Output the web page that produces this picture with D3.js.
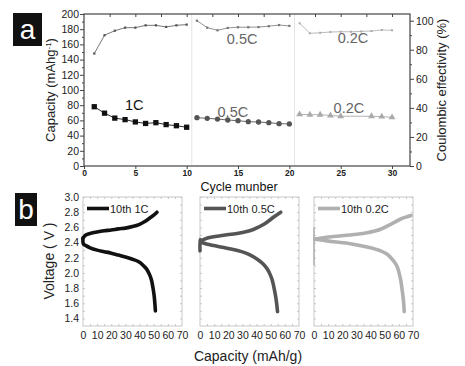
<!DOCTYPE html>
<html lang="en">
<head>
<meta charset="UTF-8">
<title>Cycling and voltage profiles</title>
<script src="https://d3js.org/d3.v7.min.js"></script>
<style>
  body { margin: 0; background: #fff; }
  svg { display: block; font-family: "Liberation Sans", Arial, sans-serif; }
  .tick text { fill: #222; }
</style>
</head>
<body>
<svg id="chart" width="465" height="366"></svg>
<script>
// ---- panel a: capacity (left axis) and coulombic efficiency (right axis)
const cycles1C = [1, 2, 3, 4, 5, 6, 7, 8, 9, 10];
const cap1C = [78, 69.5, 63, 61, 58, 56, 57, 54.5, 53, 51];
const eff1C = [77.4, 90, 93.1, 95.2, 95.2, 96.8, 96.8, 95.7, 96.8, 97.3];

const cycles05C = [11, 12, 13, 14, 15, 16, 17, 18, 19, 20];
const cap05C = [63.6, 62.7, 61.8, 60.5, 59.6, 58.3, 57.9, 57, 55.7, 55.3];
const eff05C = [100, 95.2, 93.4, 95, 95.5, 95.5, 95.6, 96.2, 97, 96.4];

const capCycles02C = [21, 22, 23, 24, 25, 28, 29, 30];
const cap02C = [68, 67.5, 67.5, 66.5, 65.5, 65.5, 65, 64];
const effCycles02C = [21, 22, 23, 24, 25, 26, 27, 28, 29, 30];
const eff02C = [98.2, 91.3, 91.7, 92.2, 92.4, 92.4, 92.6, 92.9, 93.6, 93.4];

const cycleTicks = [0, 5, 10, 15, 20, 25, 30];
const capTicks = [0, 20, 40, 60, 80, 100, 120, 140, 160, 180, 200];
const effTicks = [0, 20, 40, 60, 80, 100];

// ---- panel b: 10th-cycle voltage profiles [capacity, voltage]
const charge1C = [[0, 2.46], [2, 2.50], [5, 2.52], [10, 2.54], [15, 2.555], [20, 2.565], [25, 2.58], [30, 2.59], [35, 2.61], [40, 2.64], [44, 2.68], [47, 2.72], [50, 2.76], [52.3, 2.80]];
const discharge1C = [[0, 2.46], [0.3, 2.38], [2, 2.36], [5, 2.33], [10, 2.30], [15, 2.28], [20, 2.26], [25, 2.235], [30, 2.21], [35, 2.18], [40, 2.14], [43, 2.09], [45, 2.05], [47, 1.98], [48.5, 1.90], [49.5, 1.80], [50.3, 1.70], [50.8, 1.60], [51.2, 1.50]];
const charge05C = [[0.5, 2.42], [4.8, 2.457], [14.3, 2.49], [26.2, 2.52], [33, 2.545], [38.1, 2.575], [45.2, 2.64], [49, 2.69], [52.4, 2.74], [57.1, 2.80]];
const discharge05C = [[0, 2.29], [0, 2.44], [0.5, 2.41], [7.1, 2.37], [19, 2.325], [31, 2.27], [36, 2.23], [40.5, 2.18], [44.5, 2.12], [47.6, 2.05], [50, 1.96], [51.2, 1.895], [52.6, 1.78], [53.6, 1.675], [54.3, 1.58], [54.8, 1.49]];
const charge02C = [[0.7, 2.445], [4.3, 2.457], [13.8, 2.48], [25.7, 2.50], [37.6, 2.53], [47.1, 2.575], [54.3, 2.64], [61.4, 2.71], [68.6, 2.755]];
const discharge02C = [[0.7, 2.445], [13.8, 2.41], [25.7, 2.385], [37.6, 2.34], [47.1, 2.29], [51.5, 2.25], [54.3, 2.20], [57, 2.14], [59.1, 2.07], [60.4, 1.98], [61.4, 1.895], [62.3, 1.78], [63, 1.675], [63.5, 1.58], [63.8, 1.49]];
const spike02C = [[0, 2.10], [0, 2.60]];

const profileLabels = ["10th 1C", "10th 0.5C", "10th 0.2C"];
const capacityTicks = [0, 10, 20, 30, 40, 50, 60, 70];
const voltageTicks = [1.4, 1.6, 1.8, 2.0, 2.2, 2.4, 2.6, 2.8, 3.0];

const svg = d3.select("#chart");

// ================= panel a =================
const x = d3.scaleLinear().domain([0, 31.75]).range([84, 410]);
const yCap = d3.scaleLinear().domain([0, 200]).range([166, 14]);
const yEff = d3.scaleLinear().domain([0, 104.6]).range([166, 14]);

const pa = svg.append("g");

// faint separators between rate blocks
[10.5, 20.5].forEach(c => {
    pa.append("line")
        .attr("x1", x(c)).attr("x2", x(c))
        .attr("y1", 14).attr("y2", 166)
        .attr("stroke", "#e4e4e4").attr("stroke-width", 1);
});

// frame
pa.append("rect")
    .attr("x", 84).attr("y", 14).attr("width", 326).attr("height", 152)
    .attr("fill", "none").attr("stroke", "#444").attr("stroke-width", 1.2);

// axes
const axL = pa.append("g").attr("transform", "translate(84,0)")
    .call(d3.axisLeft(yCap).tickValues(capTicks).tickSize(4).tickSizeOuter(0));
pa.append("g").attr("transform", "translate(84,0)")
    .call(d3.axisLeft(yCap).tickValues(d3.range(10, 200, 20)).tickSize(2).tickFormat(""));
const axR = pa.append("g").attr("transform", "translate(410,0)")
    .call(d3.axisRight(yEff).tickValues(effTicks).tickSize(4).tickSizeOuter(0));
pa.append("g").attr("transform", "translate(410,0)")
    .call(d3.axisRight(yEff).tickValues(d3.range(10, 100, 20)).tickSize(2).tickFormat(""));
const axB = pa.append("g").attr("transform", "translate(0,166)")
    .call(d3.axisBottom(x).tickValues(cycleTicks).tickSize(3).tickSizeOuter(0));
pa.append("g").attr("transform", "translate(0,14)")
    .call(d3.axisBottom(x).tickValues(d3.range(2.5, 31, 2.5)).tickSize(3).tickFormat(""));

pa.selectAll(".domain").remove();
pa.selectAll(".tick line").attr("stroke", "#444");
axL.selectAll("text").attr("font-size", 10.5).attr("x", -5);
axR.selectAll("text").attr("font-size", 10.5).attr("x", 6);
axB.selectAll("text").attr("font-size", 8.5).attr("font-weight", "bold").attr("fill", "#333").attr("y", 4);

// axis titles
pa.append("text")
    .attr("transform", "translate(55,90) rotate(-90)")
    .attr("text-anchor", "middle").attr("font-size", 13).attr("fill", "#222")
    .text("Capacity (mAhg")
    .append("tspan").attr("baseline-shift", "super").attr("font-size", 8).text("-1")
    .select(function () { return this.parentNode; })
    .append("tspan").text(")");
pa.append("text")
    .attr("transform", "translate(446,90) rotate(-90)")
    .attr("text-anchor", "middle").attr("font-size", 13).attr("fill", "#222")
    .text("Coulombic effectivity (%)");
pa.append("text")
    .attr("x", 239).attr("y", 191)
    .attr("text-anchor", "middle").attr("font-size", 12.5).attr("fill", "#111")
    .text("Cycle munber");

// series
function addSeries(cycles, vals, scale, color, lineW, shape, size) {
    const pts = cycles.map((c, i) => [x(c), scale(vals[i])]);
    pa.append("path")
        .attr("d", d3.line()(pts))
        .attr("fill", "none").attr("stroke", color).attr("stroke-width", lineW);
    pa.selectAll(null).data(pts).join("path")
        .attr("transform", d => `translate(${d[0]},${d[1]})`)
        .attr("d", d3.symbol().type(shape).size(size))
        .attr("fill", color);
}
addSeries(cycles1C, eff1C, yEff, "#555", 0.8, d3.symbolSquare, 5);
addSeries(cycles05C, eff05C, yEff, "#777", 0.8, d3.symbolSquare, 5);
addSeries(effCycles02C, eff02C, yEff, "#aaa", 0.8, d3.symbolSquare, 4);
addSeries(cycles1C, cap1C, yCap, "#111", 0.9, d3.symbolSquare, 28);
addSeries(cycles05C, cap05C, yCap, "#555", 0.9, d3.symbolCircle, 22);
addSeries(capCycles02C, cap02C, yCap, "#aaa", 0.9, d3.symbolTriangle, 20);

// rate labels (baseline positions in data units)
const rateLabels = [
    { t: "1C", c: 4.9, v: 73.7, s: yCap, col: "#111" },
    { t: "0.5C", c: 15.4, v: 84, s: yEff, col: "#666" },
    { t: "0.5C", c: 14.5, v: 64.5, s: yCap, col: "#666" },
    { t: "0.2C", c: 26.2, v: 84.4, s: yEff, col: "#666" },
    { t: "0.2C", c: 25.8, v: 70, s: yCap, col: "#666" }
];
pa.selectAll(".rate").data(rateLabels).join("text")
    .attr("class", "rate")
    .attr("x", d => x(d.c)).attr("y", d => d.s(d.v))
    .attr("text-anchor", "middle").attr("font-size", 14.5)
    .attr("fill", d => d.col)
    .text(d => d.t);

// panel tag
pa.append("rect").attr("x", 13).attr("y", 13).attr("width", 29).attr("height", 33).attr("fill", "#111");
pa.append("text").attr("x", 27.5).attr("y", 39).attr("text-anchor", "middle")
    .attr("font-size", 28).attr("fill", "#fff").text("a");

// ================= panel b =================
const y = d3.scaleLinear().domain([1.3, 3.0]).range([326, 197]);
const profiles = [
    { x0: 83, label: profileLabels[0], color: "#111", charge: charge1C, discharge: discharge1C, extra: null, yLabels: true },
    { x0: 200, label: profileLabels[1], color: "#555", charge: charge05C, discharge: discharge05C, extra: null, yLabels: false },
    { x0: 314, label: profileLabels[2], color: "#b0b0b0", charge: charge02C, discharge: discharge02C, extra: spike02C, yLabels: false }
];

const pb = svg.append("g");
profiles.forEach(p => {
    const xs = d3.scaleLinear().domain([0, 70]).range([p.x0, p.x0 + 99]);
    const g = pb.append("g");

    // minor ticks on every side
    const tickCol = "#c4c4c4";
    g.append("g").attr("transform", `translate(${p.x0},0)`)
        .call(d3.axisRight(y).tickValues(d3.range(1.4, 3.01, 0.1)).tickSize(2).tickFormat(""));
    g.append("g").attr("transform", `translate(${p.x0 + 99},0)`)
        .call(d3.axisLeft(y).tickValues(d3.range(1.4, 3.01, 0.1)).tickSize(2).tickFormat(""));
    g.append("g").attr("transform", "translate(0,197)")
        .call(d3.axisBottom(xs).tickValues(d3.range(5, 70, 5)).tickSize(2).tickFormat(""));
    g.append("g").attr("transform", "translate(0,326)")
        .call(d3.axisTop(xs).tickValues(d3.range(5, 70, 5)).tickSize(2).tickFormat(""));
    g.selectAll(".domain").remove();
    g.selectAll(".tick line").attr("stroke", tickCol);

    g.append("rect")
        .attr("x", p.x0).attr("y", 197).attr("width", 99).attr("height", 129)
        .attr("fill", "none").attr("stroke", "#c8c8c8").attr("stroke-width", 1);

    const bx = g.append("g").attr("transform", "translate(0,326)")
        .call(d3.axisBottom(xs).tickValues(capacityTicks).tickSize(0));
    bx.select(".domain").remove();
    bx.selectAll("text").attr("font-size", 10.5).attr("y", 6);

    if (p.yLabels) {
        const ly = g.append("g").attr("transform", `translate(${p.x0},0)`)
            .call(d3.axisLeft(y).tickValues(voltageTicks).tickSize(0).tickFormat(d3.format(".1f")));
        ly.select(".domain").remove();
        ly.selectAll("text").attr("font-size", 10.5).attr("x", -4);
    }

    const line = d3.line().x(d => xs(d[0])).y(d => y(d[1])).curve(d3.curveCatmullRom);
    [p.charge, p.discharge].forEach(arr => {
        g.append("path").attr("d", line(arr))
            .attr("fill", "none").attr("stroke", p.color).attr("stroke-width", 3.6)
            .attr("stroke-linecap", "round").attr("stroke-linejoin", "round");
    });
    if (p.extra) {
        g.append("path").attr("d", d3.line().x(d => xs(d[0])).y(d => y(d[1]))(p.extra))
            .attr("fill", "none").attr("stroke", p.color).attr("stroke-width", 1.5);
    }

    // legend
    g.append("line")
        .attr("x1", p.x0 + 4).attr("x2", p.x0 + 26).attr("y1", 208.5).attr("y2", 208.5)
        .attr("stroke", p.color).attr("stroke-width", 3.6);
    g.append("text")
        .attr("x", p.x0 + 27).attr("y", 212.5)
        .attr("font-size", 11).attr("fill", "#222")
        .text(p.label);
});

pb.append("text")
    .attr("transform", "translate(54,261) rotate(-90)")
    .attr("text-anchor", "middle").attr("font-size", 14).attr("fill", "#222")
    .text("Voltage ( V )");
pb.append("text")
    .attr("x", 248).attr("y", 361)
    .attr("text-anchor", "middle").attr("font-size", 14).attr("fill", "#222")
    .text("Capacity (mAh/g)");

pb.append("rect").attr("x", 15).attr("y", 193).attr("width", 22).attr("height", 33).attr("fill", "#111");
pb.append("text").attr("x", 26).attr("y", 219).attr("text-anchor", "middle")
    .attr("font-size", 28).attr("fill", "#fff").text("b");
</script>
</body>
</html>
